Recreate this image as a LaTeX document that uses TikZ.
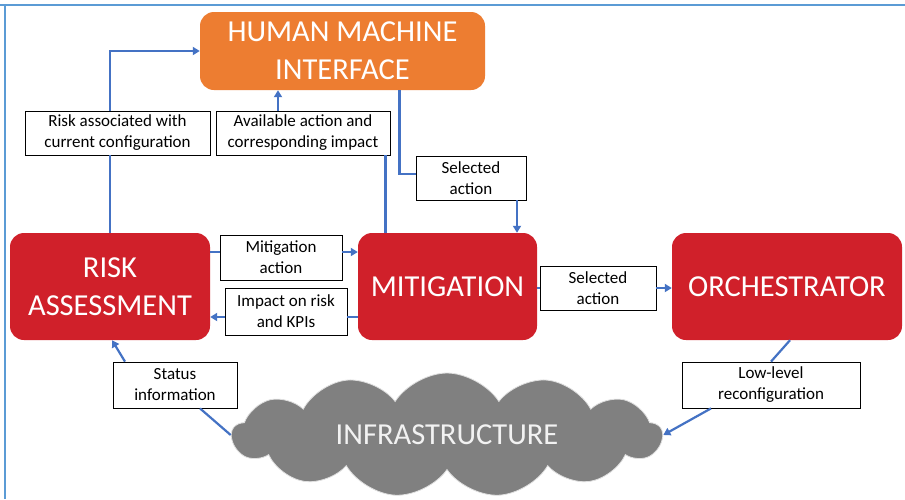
\documentclass[tikz,border=0pt]{standalone}
\usepackage{fontspec}
\setmainfont{Carlito}
\usetikzlibrary{shapes.symbols,arrows.meta}
\definecolor{hmiorange}{HTML}{ED7D31}
\definecolor{boxred}{HTML}{D0202A}
\definecolor{linkblue}{HTML}{4472C4}
\definecolor{frameblue}{HTML}{5B9BD5}
\definecolor{cloudgray}{HTML}{808080}
\begin{document}
\begin{tikzpicture}[x=1pt,y=-1pt,
  mainbox/.style={rounded corners=14pt, text=white, font=\fontsize{30.5}{38}\selectfont, align=center, inner sep=0pt},
  lbl/.style={draw=black, line width=0.8pt, fill=white, font=\fontsize{17}{21}\selectfont, align=center, inner sep=0pt},
  link/.style={draw=linkblue, line width=2.2pt},
  arr/.style={link, -{Triangle[length=7pt,width=8pt]}}]
\useasboundingbox (0,0) rectangle (905,499);
\fill[white] (0,0) rectangle (905,499);
\draw[frameblue, line width=1.5pt] (0,5) -- (905,5);
\draw[frameblue, line width=1.5pt] (5,5) -- (5,499);

% main boxes
\node[mainbox, fill=hmiorange, minimum width=285pt, minimum height=78pt] (hmi) at (342.5,51) {HUMAN MACHINE\\INTERFACE};
\node[mainbox, fill=boxred, minimum width=200pt, minimum height=107pt] (risk) at (110,286.5) {RISK\\ASSESSMENT};
\node[mainbox, fill=boxred, minimum width=179pt, minimum height=107pt] (mit) at (447.5,286.5) {MITIGATION};
\node[mainbox, fill=boxred, minimum width=230pt, minimum height=107pt] (orch) at (787,286.5) {ORCHESTRATOR};
\node[cloud, cloud puffs=13, cloud puff arc=115, aspect=3.7, fill=cloudgray, draw=white!75!cloudgray, line width=0.8pt,
      minimum width=430pt, minimum height=114pt, inner sep=0pt, text=white!95!black,
      font=\fontsize{30.5}{38}\selectfont] (infra) at (447,435) {INFRASTRUCTURE};

% labels
\node[lbl, minimum width=185pt, minimum height=44pt] (l1) at (117.5,133) {Risk associated with\\current configuration};
\node[lbl, minimum width=174pt, minimum height=44pt] (l2) at (303,133) {Available action and\\corresponding impact};
\node[lbl, minimum width=110pt, minimum height=44pt] (l3) at (471,178) {Selected\\action};
\node[lbl, minimum width=122pt, minimum height=45pt] (l4) at (281,257.5) {Mitigation\\action};
\node[lbl, minimum width=122pt, minimum height=47pt] (l5) at (286,311.5) {Impact on risk\\and KPIs};
\node[lbl, minimum width=116pt, minimum height=44pt] (l6) at (598,288) {Selected\\action};
\node[lbl, minimum width=124pt, minimum height=46pt] (l7) at (175,385) {Status\\information};
\node[lbl, minimum width=178pt, minimum height=46pt] (l8) at (771,385) {Low-level\\reconfiguration};

% connectors
% risk -> hmi
\draw[link] (risk.north) -- (risk.north |- l1.south);
\draw[arr] (risk.north |- l1.north) |- (hmi.west);
% mitigation -> hmi
\coordinate (m2) at ([xshift=-5pt]l2.south east);
\draw[link] (m2) -- (m2 |- mit.north);
\coordinate (m2t) at ([xshift=-25pt]l2.north);
\draw[arr] (m2t) -- (m2t |- hmi.south);
% hmi -> mitigation
\coordinate (h3) at ([xshift=57pt]hmi.south);
\draw[link] (h3) |- ([yshift=4pt]l3.west);
\coordinate (h3b) at ([xshift=46pt]l3.south);
\draw[arr] (h3b) -- (h3b |- mit.north);
% risk -> mitigation
\coordinate (r4) at ([yshift=5.5pt]l4.west);
\draw[link] (r4 -| risk.east) -- (r4);
\coordinate (r4b) at ([yshift=5.5pt]l4.east);
\draw[arr] (r4b) -- (r4b -| mit.west);
% mitigation -> risk
\coordinate (m5) at ([yshift=-5.5pt]l5.east);
\draw[link] (m5 -| mit.west) -- (m5);
\coordinate (m5b) at ([yshift=-5.5pt]l5.west);
\draw[arr] (m5b) -- (m5b -| risk.east);
% mitigation -> orchestrator
\draw[link] (mit.east |- l6.west) -- (l6.west);
\draw[arr] (l6.east) -- (l6.east -| orch.west);
% infrastructure -> risk
\draw[link] ([xshift=25pt]l7.south) -- (infra.west);
\draw[arr] ([xshift=-50pt]l7.north) -- ([xshift=2pt]risk.south);
% orchestrator -> infrastructure
\draw[link] ([xshift=3pt]orch.south) -- (l8.north);
\draw[arr] ([xshift=-60pt]l8.south) -- (infra.east);
\end{tikzpicture}
\end{document}
